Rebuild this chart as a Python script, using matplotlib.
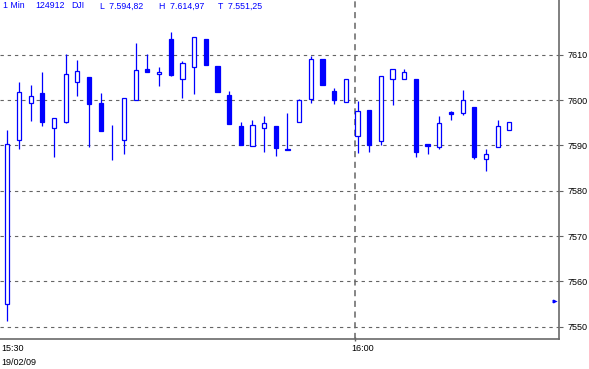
import matplotlib
matplotlib.use("Agg")
import matplotlib.pyplot as plt
from matplotlib.patches import Rectangle

# 1-minute candles, 15:30 onwards
times = ["15:30", "15:31", "15:32", "15:33", "15:34", "15:35", "15:36", "15:37", "15:38", "15:39",
         "15:40", "15:41", "15:42", "15:43", "15:44", "15:45", "15:46", "15:47", "15:48", "15:49",
         "15:50", "15:51", "15:52", "15:53", "15:54", "15:55", "15:56", "15:57", "15:58", "15:59",
         "16:00", "16:01", "16:02", "16:03", "16:04", "16:05", "16:06", "16:07", "16:08", "16:09",
         "16:10", "16:11", "16:12", "16:13"]
opens = [7555.1, 7591.1, 7599.3, 7601.5, 7593.9, 7595.2, 7604.0, 7605.1, 7599.3, 7594.5,
         7591.1, 7600.1, 7606.9, 7605.7, 7613.5, 7604.6, 7607.4, 7613.5, 7607.5, 7601.1,
         7594.3, 7589.8, 7593.8, 7594.3, 7589.3, 7595.1, 7600.2, 7609.0, 7602.1, 7599.5,
         7592.0, 7597.7, 7590.9, 7604.6, 7604.6, 7604.6, 7590.2, 7589.6, 7597.4, 7597.1,
         7598.5, 7587.1, 7589.6, 7593.3]
closes = [7590.4, 7601.7, 7601.0, 7595.2, 7596.0, 7605.7, 7606.3, 7599.2, 7593.2, 7594.5,
          7600.4, 7606.6, 7606.2, 7606.1, 7605.6, 7608.1, 7613.8, 7607.8, 7601.8, 7594.8,
          7590.0, 7594.4, 7594.9, 7589.5, 7588.9, 7599.9, 7609.0, 7603.4, 7600.1, 7604.6,
          7597.5, 7590.1, 7605.2, 7606.8, 7606.1, 7588.6, 7589.9, 7594.9, 7597.0, 7599.9,
          7587.5, 7588.2, 7594.2, 7595.1]
highs = [7593.4, 7604.0, 7603.3, 7606.2, 7596.0, 7610.1, 7608.8, 7605.1, 7601.5, 7594.5,
         7600.4, 7612.6, 7610.1, 7607.3, 7614.97, 7608.6, 7613.8, 7613.5, 7607.5, 7602.0,
         7595.1, 7595.6, 7596.5, 7594.3, 7597.1, 7600.2, 7609.7, 7609.0, 7602.6, 7604.6,
         7599.8, 7597.7, 7605.2, 7606.8, 7606.8, 7604.6, 7590.2, 7596.5, 7597.6, 7602.2,
         7598.5, 7589.2, 7595.6, 7595.1]
lows = [7551.25, 7589.3, 7595.4, 7594.3, 7587.5, 7595.0, 7601.0, 7589.7, 7593.2, 7586.8,
        7588.2, 7600.1, 7606.2, 7603.2, 7605.4, 7600.5, 7601.4, 7607.8, 7601.8, 7594.8,
        7590.0, 7589.8, 7588.6, 7587.6, 7588.9, 7595.1, 7599.4, 7603.4, 7599.2, 7599.5,
        7588.4, 7588.6, 7590.1, 7599.0, 7604.6, 7587.5, 7588.1, 7589.1, 7595.6, 7596.7,
        7587.0, 7584.4, 7589.6, 7593.3]

marker_price = 7555.6
y_ticks = [7550, 7560, 7570, 7580, 7590, 7600, 7610]
x_labels = {"15:30": "15:30", "16:00": "16:00"}
date_label = "19/02/09"
header = [("1 Min", 3), ("124912", 35), ("DJI", 71),
          ("L  7.594,82", 100), ("H  7.614,97", 159), ("T  7.551,25", 218)]

blue = "#0000ff"
grey = "#646464"
W, H = 589, 369

fig = plt.figure(figsize=(W / 100, H / 100), dpi=100)
ax = fig.add_axes([0, 29.7 / H, 558.7 / W, 339.3 / H])
ax.set_xlim(-0.625, 47.23)
ax.set_ylim(7547.22, 7622.07)

# grid
for v in y_ticks:
    ax.axhline(v, color=grey, lw=0.8, ls=(0, (3, 3.5)), zorder=1)
i16 = times.index("16:00") - 0.18
ax.axvline(i16, color=grey, lw=1.1, ls=(0, (4, 3)), zorder=1)

# candles
bw = 0.36
for i in range(len(times)):
    o, c, h, l = opens[i], closes[i], highs[i], lows[i]
    ax.vlines(i, l, h, color=blue, lw=0.9, zorder=2)
    if abs(c - o) > 0:
        up = c >= o
        ax.add_patch(Rectangle((i - bw / 2, min(o, c)), bw, abs(c - o),
                               facecolor="white" if up else blue,
                               edgecolor=blue, lw=0.9, zorder=3))

# last-price flag near the axis
ax.plot([46.62, 46.85], [marker_price, marker_price], color=blue, lw=2.2,
        solid_capstyle="butt", zorder=4)
ax.plot([46.9], [marker_price], marker=">", color=blue, ms=3, mew=0, zorder=4)

# axes styling
for s in ["top", "left"]:
    ax.spines[s].set_visible(False)
for s in ["right", "bottom"]:
    ax.spines[s].set_color("#6a6a6a")
    ax.spines[s].set_linewidth(1.2)
ax.yaxis.tick_right()
ax.set_yticks(y_ticks)
ax.set_yticklabels([str(v) for v in y_ticks], fontsize=6.5, family="Liberation Sans")
ax.tick_params(axis="y", length=3, width=0.8, color=grey, pad=3)
ax.set_xticks([i16])
ax.set_xticklabels([""])
ax.tick_params(axis="x", length=3, width=1, color=grey, direction="inout")

for lab in x_labels:
    xi = times.index(lab) - 0.18
    ax.annotate(lab, (xi, 0), xycoords=("data", "axes fraction"),
                xytext=(-4, -5), textcoords="offset pixels", ha="left", va="top",
                fontsize=6.5, family="Liberation Sans")
ax.annotate(date_label, (0, 0), xycoords="axes fraction", xytext=(1, -19),
            textcoords="offset pixels", ha="left", va="top",
            fontsize=6.5, family="Liberation Sans")

for txt, px in header:
    fig.text(px / W, 1 - 6 / H, txt, color=blue, fontsize=6.3,
             family="Liberation Sans", ha="left", va="center")

fig.savefig("out.png", dpi=100)
